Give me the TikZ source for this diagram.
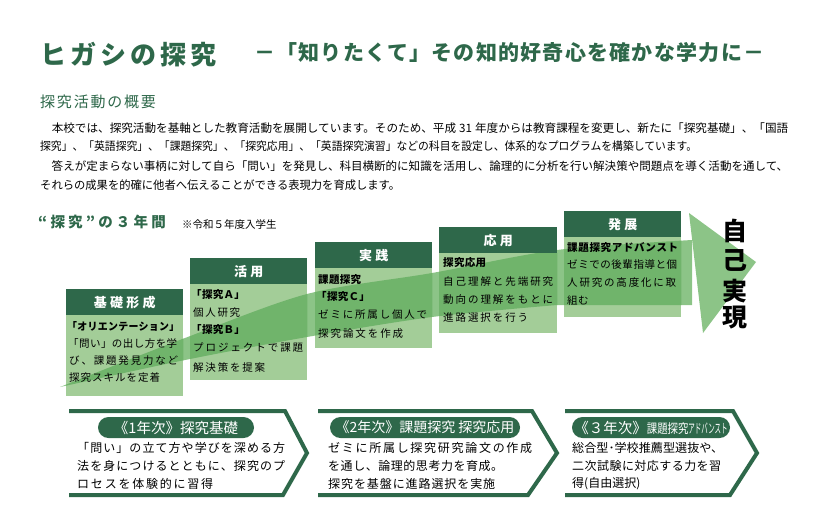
\documentclass[tikz,border=0pt]{standalone}
\usepackage{fontspec}
\usepackage{graphicx}
\setmainfont{Noto Sans CJK JP}
\newfontfamily\jpA[LetterSpace=3]{Noto Sans CJK JP}
\newfontfamily\jpB[LetterSpace=25]{Noto Sans CJK JP}
\newfontfamily\jpC[LetterSpace=16]{Noto Sans CJK JP}
\newfontfamily\jpE[LetterSpace=22]{Noto Sans CJK JP}
\newfontfamily\jpF[LetterSpace=12]{Noto Sans CJK JP}
\newfontfamily\jpD[LetterSpace=6]{Noto Sans CJK JP}
\def\sprA#1{#1\sprB}
\def\sprB#1{\ifx#1\relax\else\hskip 0pt plus 1fil#1\expandafter\sprB\fi}
\newcommand\jl[2]{\makebox[#1][s]{\sprA#2\relax}}
\newcommand\jr[2]{\resizebox{#1}{\height}{#2}}
\definecolor{dgreen}{HTML}{2E684A}
\definecolor{bodyg}{HTML}{A3CD98}
\definecolor{overg}{HTML}{70B46B}
\definecolor{bandg}{HTML}{8CC487}
\tikzset{
  hdr/.style={fill=dgreen, text=white, font=\jpB\bfseries\fontsize{13}{13}\selectfont, minimum width=117, minimum height=26, anchor=north west, inner sep=0},
  bodybox/.style={fill=bodyg, minimum width=117, anchor=north west, inner sep=0},
  ln/.style={anchor=west, inner sep=0, font=\jpA\fontsize{10.5}{10.5}\selectfont},
  lnb/.style={ln, font=\jpA\bfseries\fontsize{10.5}{10.5}\selectfont},
  para/.style={anchor=west, inner sep=0, font=\fontsize{11.5}{11.5}\selectfont},
  cl/.style={anchor=west, inner sep=0, font=\jpD\fontsize{12}{12}\selectfont},
  chev/.style={draw=dgreen, line width=4, line join=miter},
  pill/.style={fill=dgreen, text=white, rounded corners=10.5, minimum height=21, inner sep=0, font=\fontsize{14.5}{14.5}\selectfont},
  vt/.style={inner sep=0, font=\bfseries\fontsize{25}{25}\selectfont},
}
\begin{document}
\begin{tikzpicture}[x=1pt,y=-1pt]
\useasboundingbox (0,0) rectangle (827,512);

% titles
\node[anchor=west, inner sep=0, text=dgreen, font=\jpC\bfseries\fontsize{26}{26}\selectfont] (title) at (40,55) {ヒガシの探究};
\node[anchor=west, inner sep=0, text=dgreen, font=\jpD\bfseries\fontsize{21}{21}\selectfont] (subtitle) at (254,53) {－「知りたくて」その知的好奇心を確かな学力に－};
\node[anchor=west, inner sep=0, text=dgreen, font=\jpF\fontsize{15}{15}\selectfont] (sec) at (40,102) {探究活動の概要};

\node[para] (p1) at (40,128) {\jr{748pt}{　本校では、探究活動を基軸とした教育活動を展開しています。そのため、平成\kern3pt 31\kern3pt 年度からは教育課程を変更し、新たに「探究基礎」、「国語}};
\node[para] (p2) at (40,146.5) {\jr{657pt}{探究」、「英語探究」、「課題探究」、「探究応用」、「英語探究演習」などの科目を設定し、体系的なプログラムを構築しています。}};
\node[para] (p3) at (40,166.5) {\jr{748pt}{　答えが定まらない事柄に対して自ら「問い」を発見し、科目横断的に知識を活用し、論理的に分析を行い解決策や問題点を導く活動を通して、}};
\node[para] (p4) at (40,185) {\jr{360pt}{それらの成果を的確に他者へ伝えることができる表現力を育成します。}};

\node[anchor=west, inner sep=0, text=dgreen, font=\jpE\bfseries\fontsize{14.5}{14.5}\selectfont] (three) at (38,222) {“探究”の３年間};
\node[anchor=west, inner sep=0, font=\fontsize{10.5}{10.5}\selectfont] (note) at (182,224) {※令和５年度入学生};

% arrow band and head
\fill[bandg] (689,213) -- (756,262) -- (703,333) -- cycle;
\fill[bandg] plot[smooth] coordinates {(60,387) (185,338) (307,294) (432,273) (557,250) (692,240)} -- (692,305) -- plot[smooth] coordinates {(557,305) (432,317) (307,337) (185,360) (60,387)} -- cycle;

% bodies
\node[bodybox, minimum height=81] (b1) at (66,315) {};
\node[bodybox, minimum height=96] (b2) at (190,284) {};
\node[bodybox, minimum height=80] (b3) at (315,268) {};
\node[bodybox, minimum height=80, minimum width=118] (b4) at (439,253) {};
\node[bodybox, minimum height=80] (b5) at (564,237) {};

\begin{scope}
\clip (b1.north west) rectangle (b1.south east)
      (b2.north west) rectangle (b2.south east)
      (b3.north west) rectangle (b3.south east)
      (b4.north west) rectangle (b4.south east)
      (b5.north west) rectangle (b5.south east);
\fill[overg] plot[smooth] coordinates {(60,387) (185,338) (307,294) (432,273) (557,250) (692,240)} -- (692,305) -- plot[smooth] coordinates {(557,305) (432,317) (307,337) (185,360) (60,387)} -- cycle;
\end{scope}

% headers
\node[hdr] (h1) at (66,289) {基礎形成};
\node[hdr] (h2) at (190,258) {活用};
\node[hdr] (h3) at (315,242) {実践};
\node[hdr, minimum width=118] (h4) at (439,227) {応用};
\node[hdr] (h5) at (564,211) {発展};

% box texts
\node[lnb] (t11) at (67,327) {\jr{112pt}{「オリエンテーション」}};
\node[ln] (t12) at (68,344) {\jl{109pt}{「問い」の出し方を学}};
\node[ln] (t13) at (69,361) {\jl{109pt}{び、課題発見力など}};
\node[ln] (t14) at (69,378) {\jl{91pt}{探究スキルを定着}};

\node[lnb] (t21) at (191,295) {「探究Ａ」};
\node[ln] (t22) at (193,313) {\jl{47pt}{個人研究}};
\node[lnb] (t23) at (191,330) {「探究Ｂ」};
\node[ln] (t24) at (193,348) {\jl{110pt}{プロジェクトで課題}};
\node[ln] (t25) at (193,367) {\jl{72pt}{解決策を提案}};

\node[lnb] (t31) at (318,280) {課題探究};
\node[lnb] (t32) at (316,297) {「探究Ｃ」};
\node[ln] (t33) at (318,315) {\jl{109pt}{ゼミに所属し個人で}};
\node[ln] (t34) at (318,334) {\jl{85pt}{探究論文を作成}};

\node[lnb] (t41) at (443,263) {探究応用};
\node[ln] (t42) at (443,282) {\jl{110pt}{自己理解と先端研究}};
\node[ln] (t43) at (443,300) {\jl{110pt}{動向の理解をもとに}};
\node[ln] (t44) at (443,318) {\jl{85pt}{進路選択を行う}};

\node[lnb] (t51) at (567,248) {\jl{111pt}{課題探究アドバンスト}};
\node[ln] (t52) at (567,265) {\jl{110pt}{ゼミでの後輩指導と個}};
\node[ln] (t53) at (567,283) {\jl{109pt}{人研究の高度化に取}};
\node[ln] (t54) at (567,301) {組む};

% vertical text
\node[vt] (v1) at (735,231) {自};
\node[vt] (v2) at (735,260) {己};
\node[vt] (v3) at (735,291) {実};
\node[vt] (v4) at (735,318) {現};

% chevrons
\draw[chev] (69,411) -- (285,411) -- (307,453) -- (283,495) -- (69,495);
\draw[chev] (318,411) -- (532,411) -- (557,453) -- (528,495) -- (318,495);
\draw[chev] (565,411) -- (733,411) -- (757,453) -- (730,495) -- (565,495);

\node[pill, minimum width=156] (y1) at (176,427.5) {《1年次》探究基礎};
\node[pill, minimum width=190, font=\fontsize{14}{14}\selectfont] (y2) at (425,427.5) {《2年次》課題探究 探究応用};
\node[pill, minimum width=158] (y3) at (651,427.5) {《３年次》\fontsize{13}{13}\selectfont\scalebox{0.8}[1]{課題探究}\scalebox{0.5}[1]{アドバンスト}};

\node[cl] (c11) at (77,448) {\jl{208pt}{「問い」の立て方や学びを深める方}};
\node[cl] (c12) at (77,466) {\jl{208pt}{法を身につけるとともに、探究のプ}};
\node[cl] (c13) at (77,484) {\jl{136pt}{ロセスを体験的に習得}};

\node[cl] (c21) at (328,448) {\jl{204pt}{ゼミに所属し探究研究論文の作成}};
\node[cl] (c22) at (328,466) {\jl{175pt}{を通し、論理的思考力を育成。}};
\node[cl] (c23) at (328,484) {\jl{167pt}{探究を基盤に進路選択を実施}};

\node[cl, font=\fontsize{12}{12}\selectfont] (c31) at (572,448) {\jr{151pt}{総合型･学校推薦型選抜や、}};
\node[cl, font=\fontsize{12}{12}\selectfont] (c32) at (572,466) {\jl{149pt}{二次試験に対応する力を習}};
\node[cl, font=\fontsize{12}{12}\selectfont] (c33) at (572,484) {得(自由選択)};
\end{tikzpicture}
\end{document}
